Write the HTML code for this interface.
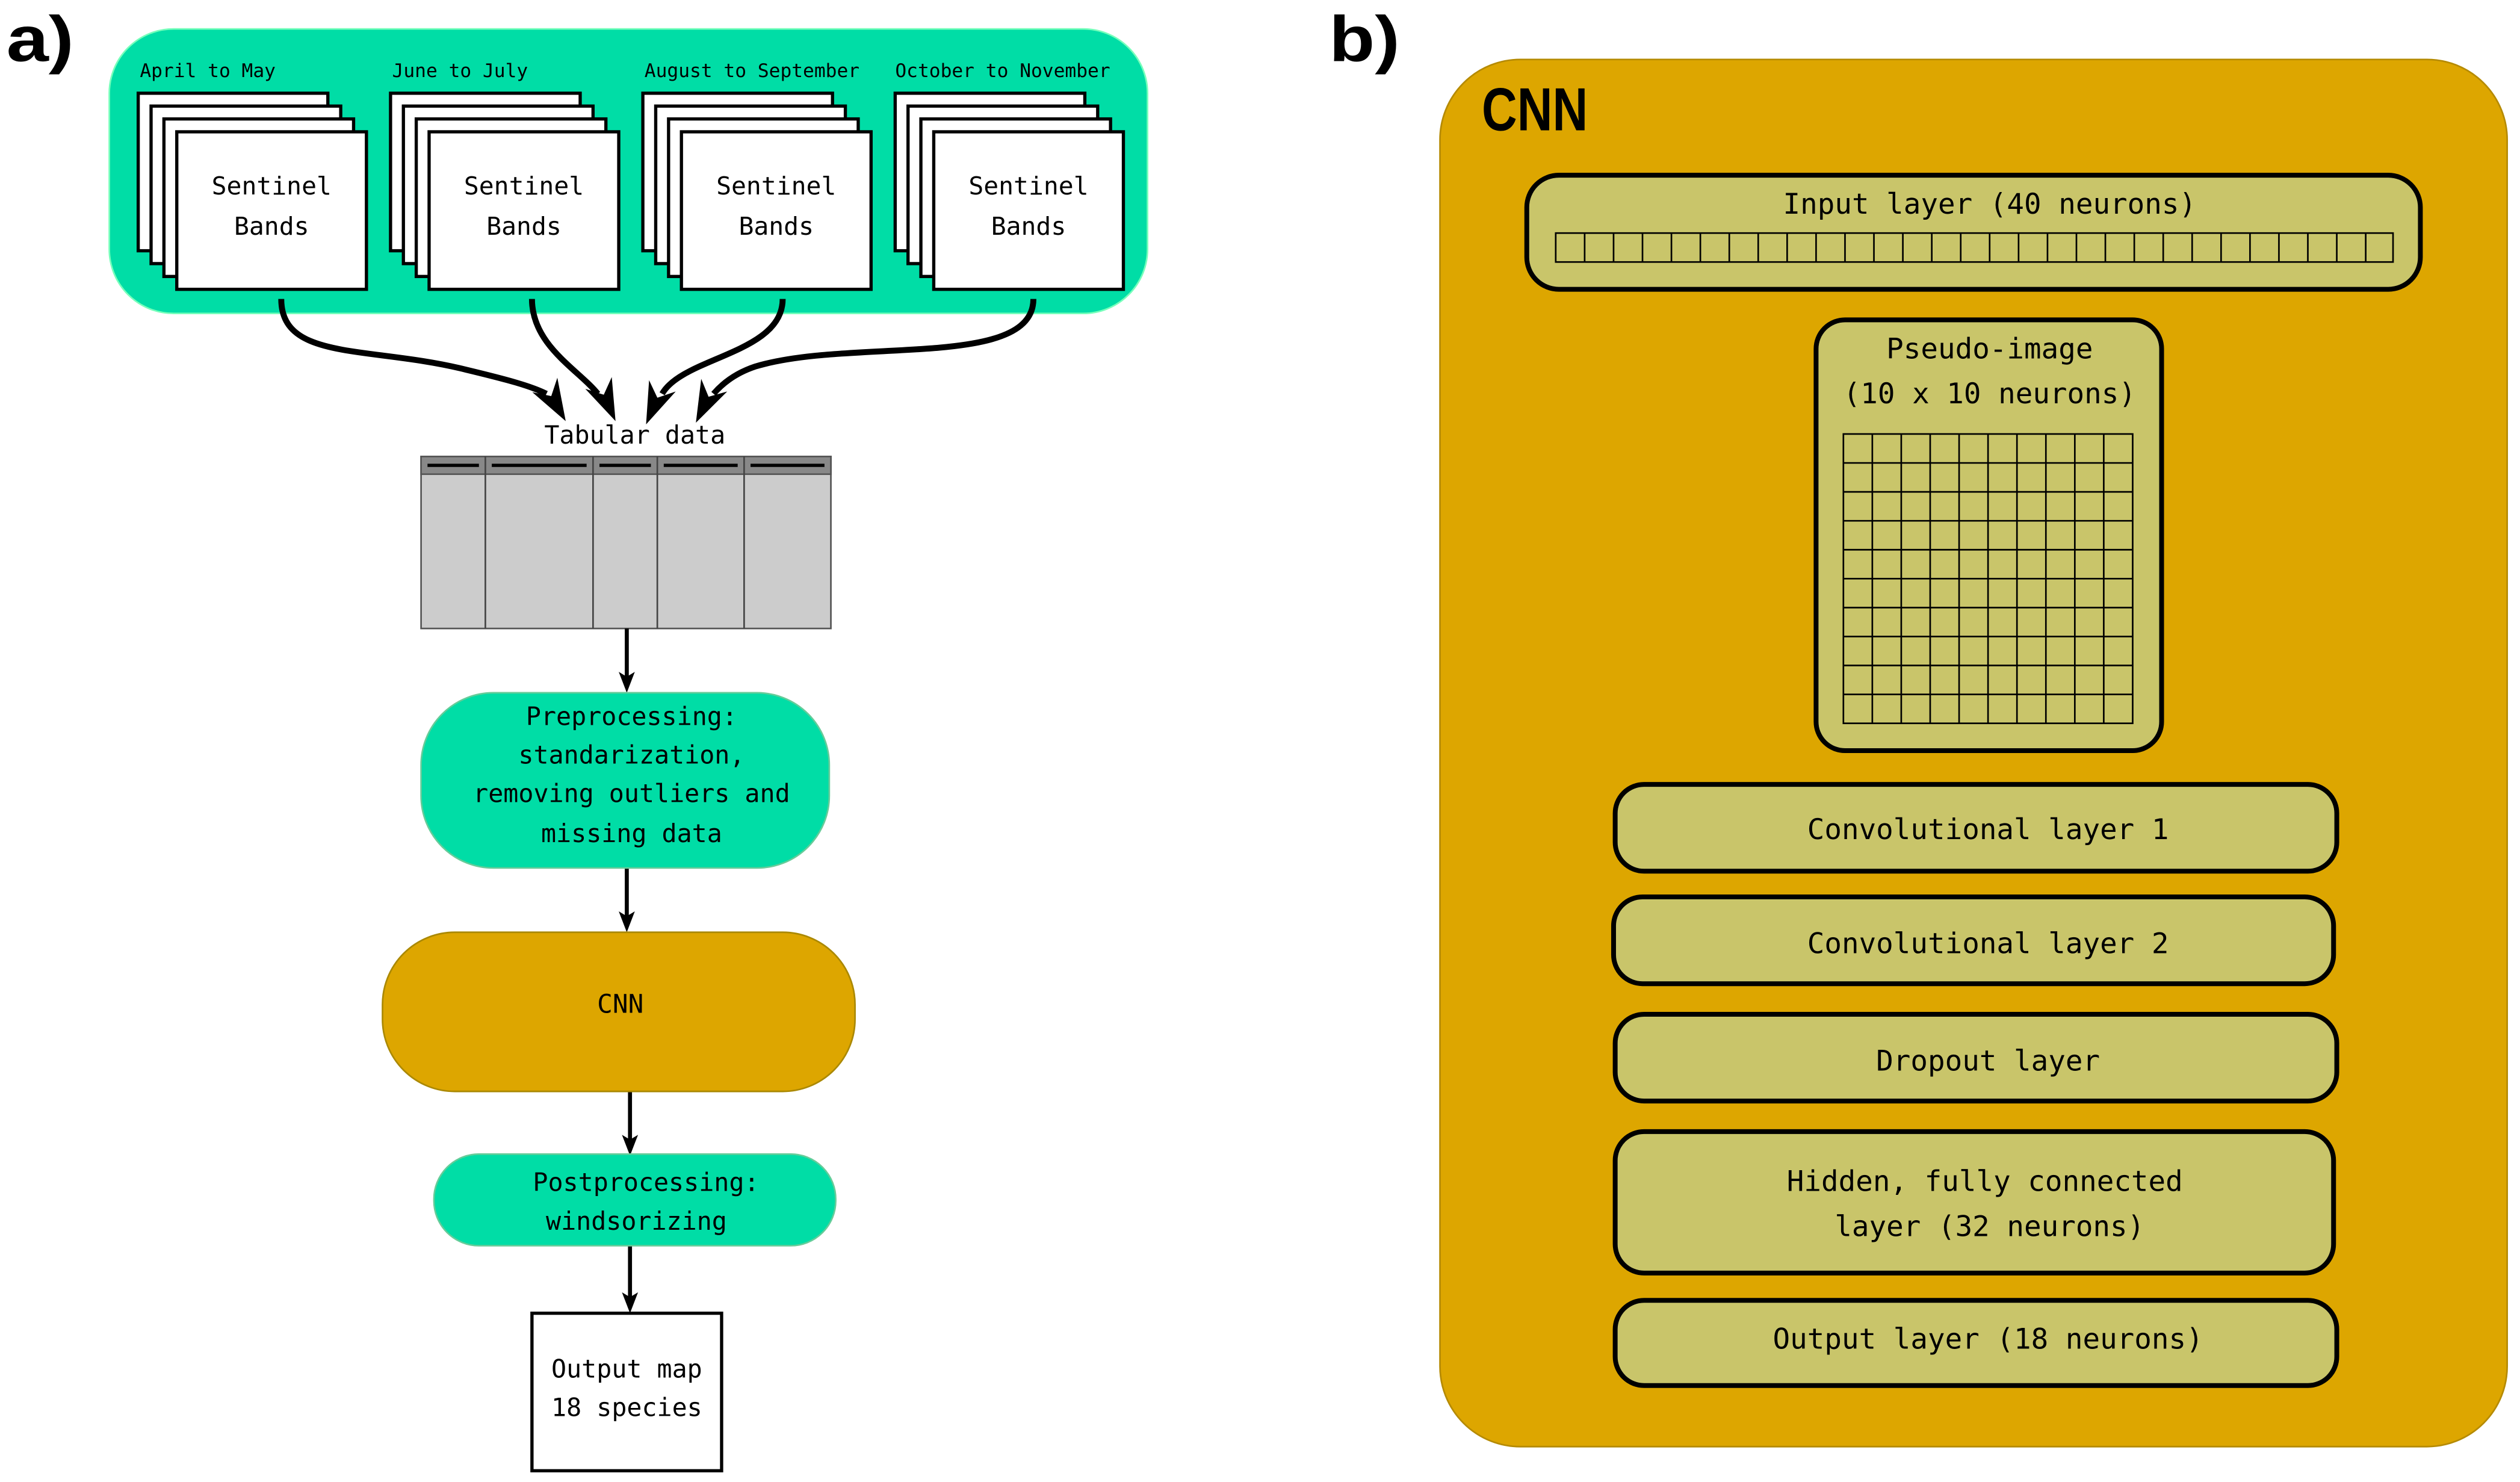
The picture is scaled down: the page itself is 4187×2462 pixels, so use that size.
<!DOCTYPE html>
<html><head><meta charset="utf-8"><style>
html,body{margin:0;padding:0;background:#fff;}
svg{display:block;}
text{font-family:"DejaVu Sans Mono","Liberation Mono",monospace;fill:#000;}
text.b{font-family:"Liberation Sans","DejaVu Sans",sans-serif;font-weight:bold;}
</style></head><body>
<svg width="4187" height="2462" viewBox="0 0 1568 922" xmlns="http://www.w3.org/2000/svg">
<!-- panel a -->
<text class="b" x="4" y="38" font-size="40" textLength="42" lengthAdjust="spacingAndGlyphs">a)</text>
<rect x="68" y="18" width="646" height="177" rx="40" fill="#00DDA6" stroke="#7fb" stroke-width="1"/>
<g font-size="11.7">
<text x="87" y="48">April to May</text>
<text x="244" y="48">June to July</text>
<text x="401" y="48">August to September</text>
<text x="557" y="48">October to November</text>
</g>
<g stroke="#000" stroke-width="2" fill="#fff">
<g id="st">
<rect x="86" y="58" width="118" height="98"/>
<rect x="94" y="66" width="118" height="98"/>
<rect x="102" y="74" width="118" height="98"/>
<rect x="110" y="82" width="118" height="98"/>
</g>
<use href="#st" x="157"/>
<use href="#st" x="314"/>
<use href="#st" x="471"/>
</g>
<g font-size="15.5" text-anchor="middle">
<text x="169" y="121">Sentinel</text><text x="169" y="146">Bands</text>
<text x="326" y="121">Sentinel</text><text x="326" y="146">Bands</text>
<text x="483" y="121">Sentinel</text><text x="483" y="146">Bands</text>
<text x="640" y="121">Sentinel</text><text x="640" y="146">Bands</text>
</g>
<g fill="none" stroke="#000" stroke-width="3.7">
<path d="M175,186 C175,225 230,215 290,230 C315,236 330,240 340,245"/>
<path d="M331,186 C331,215 360,230 372,245"/>
<path d="M487,186 C487,220 425,222 412,245"/>
<path d="M643,186 C643,230 530,210 470,228 C458,232 450,238 444,245"/>
</g>
<g fill="#000">
<path transform="translate(352,262) rotate(-30)" d="M0,0 L-9,-26 L0,-18 L9,-26 Z"/>
<path transform="translate(383,262) rotate(-24)" d="M0,0 L-9,-26 L0,-18 L9,-26 Z"/>
<path transform="translate(402,264) rotate(23)" d="M0,0 L-9,-26 L0,-18 L9,-26 Z"/>
<path transform="translate(433,263) rotate(26)" d="M0,0 L-9,-26 L0,-18 L9,-26 Z"/>
</g>
<text x="395" y="276" font-size="15.6" text-anchor="middle">Tabular data</text>
<rect x="262" y="284" width="255" height="107" fill="#ccc" stroke="#555" stroke-width="1"/>
<rect x="262" y="284" width="255" height="11" fill="#888" stroke="#555" stroke-width="1"/>
<g stroke="#444" stroke-width="1"><line x1="302" y1="284" x2="302" y2="391"/><line x1="369" y1="284" x2="369" y2="391"/><line x1="409" y1="284" x2="409" y2="391"/><line x1="463" y1="284" x2="463" y2="391"/></g>
<g stroke="#000" stroke-width="2"><line x1="266" y1="289.5" x2="298" y2="289.5"/><line x1="306" y1="289.5" x2="365" y2="289.5"/><line x1="373" y1="289.5" x2="405" y2="289.5"/><line x1="413" y1="289.5" x2="459" y2="289.5"/><line x1="467" y1="289.5" x2="513" y2="289.5"/></g>
<g stroke="#000" stroke-width="2.5" fill="none">
<line x1="390" y1="391" x2="390" y2="422"/>
<line x1="390" y1="540" x2="390" y2="571"/>
<line x1="392" y1="679" x2="392" y2="710"/>
<line x1="392" y1="775" x2="392" y2="808"/>
</g>
<g fill="#000">
<path transform="translate(390,431)" d="M0,0 L-5,-13 L0,-10 L5,-13 Z"/>
<path transform="translate(390,580)" d="M0,0 L-5,-13 L0,-10 L5,-13 Z"/>
<path transform="translate(392,719)" d="M0,0 L-5,-13 L0,-10 L5,-13 Z"/>
<path transform="translate(392,817)" d="M0,0 L-5,-13 L0,-10 L5,-13 Z"/>
</g>
<rect x="262" y="431" width="254" height="109" rx="45" fill="#00DDA6" stroke="#6c9" stroke-width="1"/>
<g font-size="15.6" text-anchor="middle">
<text x="393" y="451">Preprocessing:</text>
<text x="393" y="475">standarization,</text>
<text x="393" y="499">removing outliers and</text>
<text x="393" y="524">missing data</text>
</g>
<rect x="238" y="580" width="294" height="99" rx="45" fill="#DDA600" stroke="#a80" stroke-width="1"/>
<text x="386" y="630" font-size="16" text-anchor="middle">CNN</text>
<rect x="270" y="718" width="250" height="57" rx="28" fill="#00DDA6" stroke="#6c9" stroke-width="1"/>
<g font-size="15.6" text-anchor="middle"><text x="402" y="741">Postprocessing:</text><text x="396" y="765">windsorizing</text></g>
<rect x="331" y="817" width="118" height="98" fill="#fff" stroke="#000" stroke-width="2"/>
<g font-size="15.6" text-anchor="middle"><text x="390" y="857">Output map</text><text x="390" y="881">18 species</text></g>
<!-- panel b -->
<text class="b" x="827" y="38" font-size="40" textLength="44" lengthAdjust="spacingAndGlyphs">b)</text>
<rect x="896" y="37" width="664" height="863" rx="50" fill="#DDA600" stroke="#b58a00" stroke-width="1"/>
<text class="b" x="922" y="81" font-size="38" textLength="66" lengthAdjust="spacingAndGlyphs">CNN</text>
<g fill="#C9C56A" stroke="#000" stroke-width="3">
<rect x="950" y="109" width="556" height="71" rx="20"/>
<rect x="1130" y="199" width="215" height="268" rx="18"/>
<rect x="1005" y="488" width="449" height="54" rx="18"/>
<rect x="1004" y="558" width="448" height="54" rx="18"/>
<rect x="1005" y="631" width="449" height="54" rx="18"/>
<rect x="1005" y="704" width="447" height="88" rx="18"/>
<rect x="1005" y="809" width="449" height="53" rx="18"/>
</g>
<g stroke="#000" stroke-width="1" fill="none">
<rect x="968" y="145" width="521" height="18"/>
<path d="M986,145v18M1004,145v18M1022,145v18M1040,145v18M1058,145v18M1076,145v18M1094,145v18M1112,145v18M1130,145v18M1148,145v18M1166,145v18M1184,145v18M1202,145v18M1220,145v18M1238,145v18M1256,145v18M1274,145v18M1292,145v18M1310,145v18M1328,145v18M1346,145v18M1364,145v18M1382,145v18M1400,145v18M1418,145v18M1436,145v18M1454,145v18M1472,145v18"/>
<rect x="1147" y="270" width="180" height="180"/>
<path d="M1165,270v180M1183,270v180M1201,270v180M1219,270v180M1237,270v180M1255,270v180M1273,270v180M1291,270v180M1309,270v180M1147,288h180M1147,306h180M1147,324h180M1147,342h180M1147,360h180M1147,378h180M1147,396h180M1147,414h180M1147,432h180"/>
</g>
<g font-size="17.8" text-anchor="middle">
<text x="1238" y="133">Input layer (40 neurons)</text>
<text x="1238" y="223">Pseudo-image</text>
<text x="1238" y="251">(10 x 10 neurons)</text>
<text x="1237" y="522">Convolutional layer 1</text>
<text x="1237" y="593">Convolutional layer 2</text>
<text x="1237" y="666">Dropout layer</text>
<text x="1235" y="741">Hidden, fully connected</text>
<text x="1238" y="769">layer (32 neurons)</text>
<text x="1237" y="839">Output layer (18 neurons)</text>
</g>
</svg>
</body></html>
